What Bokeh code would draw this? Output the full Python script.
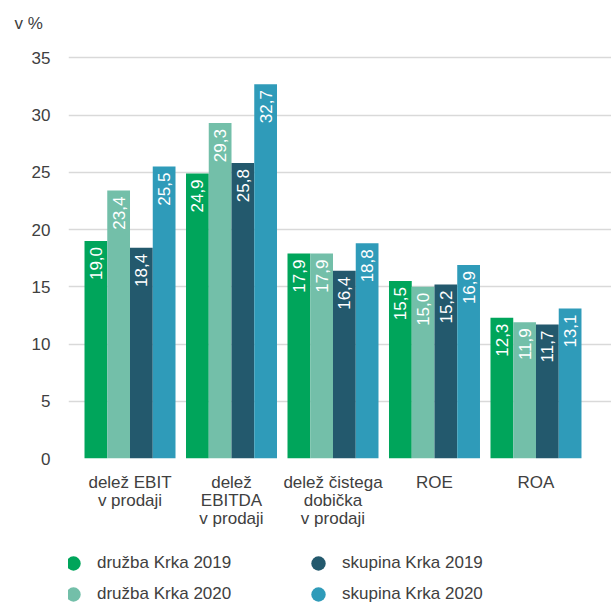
import math
from bokeh.plotting import figure
from bokeh.layouts import column
from bokeh.models import ColumnDataSource, Range1d, Legend, LegendItem, Title, FixedTicker
from bokeh.core.properties import value
from bokeh.embed import file_html
from bokeh.resources import INLINE

categories = ["delež EBIT\nv prodaji", "delež\nEBITDA\nv prodaji",
              "delež čistega\ndobička\nv prodaji", "ROE", "ROA"]
series_names = ["družba Krka 2019", "družba Krka 2020",
                "skupina Krka 2019", "skupina Krka 2020"]
druzba_2019 = [19.0, 24.9, 17.9, 15.5, 12.3]
druzba_2020 = [23.4, 29.3, 17.9, 15.0, 11.9]
skupina_2019 = [18.4, 25.8, 16.4, 15.2, 11.7]
skupina_2020 = [25.5, 32.7, 18.8, 16.9, 13.1]
y_ticks = [0, 5, 10, 15, 20, 25, 30, 35]
colors = ["#00A55B", "#73BFA9", "#23596D", "#2F9BB9"]

FONT = "Liberation Sans"
TXT = "#404040"

series = [druzba_2019, druzba_2020, skupina_2019, skupina_2020]

H1 = 536
H2 = 67
TOP = 36
FRAME_H = 422

p = figure(width=611, height=H1, output_backend="svg", toolbar_location=None,
           x_range=Range1d(-0.606, 4.744), y_range=Range1d(0, 36.86),
           min_border_left=68, min_border_right=0, min_border_top=TOP,
           min_border_bottom=H1 - TOP - FRAME_H)
p.outline_line_color = None
p.background_fill_color = "white"
p.border_fill_color = "white"

p.xgrid.grid_line_color = None
p.ygrid.grid_line_color = "#D9D9D9"
p.ygrid.grid_line_width = 1.3
p.ygrid.ticker = FixedTicker(ticks=y_ticks)

bw = 22.75 / 101.5
xs = list(range(len(categories)))
for j, (vals, col) in enumerate(zip(series, colors)):
    xpos = [x + (j - 1.5) * bw for x in xs]
    src = ColumnDataSource(dict(x=xpos, top=vals,
                                lab=[f"{v:.1f}".replace(".", ",") for v in vals]))
    p.vbar(x="x", top="top", width=bw, bottom=0, source=src,
           fill_color=col, line_color=None)
    p.text(x="x", y="top", text="lab", source=src, angle=math.pi / 2,
           text_align="right", text_baseline="middle", y_offset=6,
           text_color="white", text_font=value(FONT), text_font_size="17px")

p.xaxis.ticker = FixedTicker(ticks=xs)
p.xaxis.major_label_overrides = {i: c for i, c in enumerate(categories)}
p.yaxis.ticker = FixedTicker(ticks=y_ticks)
for ax in (p.xaxis, p.yaxis):
    ax.axis_line_color = None
    ax.major_tick_line_color = None
    ax.minor_tick_line_color = None
    ax.major_label_text_font = FONT
    ax.major_label_text_font_size = "17px"
    ax.major_label_text_color = TXT
p.yaxis.major_label_standoff = 12
p.xaxis.major_label_standoff = 8
p.xaxis.major_label_text_line_height = 0.95

p.add_layout(Title(text="v %", align="left", offset=-54, standoff=7,
                   vertical_align="bottom",
                   text_font=FONT, text_font_size="17px",
                   text_font_style="normal", text_color=TXT), "above")

# legend figure (legend markers drawn from hidden points outside the view)
pl = figure(width=611, height=H2, output_backend="svg", toolbar_location=None,
            x_range=Range1d(0, 1), y_range=Range1d(0, 1),
            x_axis_type=None, y_axis_type=None, min_border=0)
pl.outline_line_color = None
pl.xgrid.grid_line_color = None
pl.ygrid.grid_line_color = None
dummies = []
for col in colors:
    dummies.append(pl.scatter(x=[-10], y=[-10], marker="circle", size=14,
                              fill_color=col, line_color=None))

def make_legend(idx, ypos):
    items = [LegendItem(label=series_names[i], renderers=[dummies[i]]) for i in idx]
    return Legend(items=items, orientation="horizontal", location=(-13, ypos),
                  glyph_width=36, glyph_height=36, label_height=36,
                  label_standoff=6, label_width=203, spacing=0, padding=0,
                  margin=0, border_line_color=None, background_fill_alpha=0,
                  label_text_font=FONT, label_text_font_size="17px",
                  label_text_color=TXT)

pl.add_layout(make_legend([0, 2], H2 - (562 - H1) - 18 - 1))
pl.add_layout(make_legend([1, 3], H2 - (592 - H1) - 18 - 2))

layout = column(p, pl, spacing=0)
open("out.html", "w").write(file_html(layout, INLINE))
